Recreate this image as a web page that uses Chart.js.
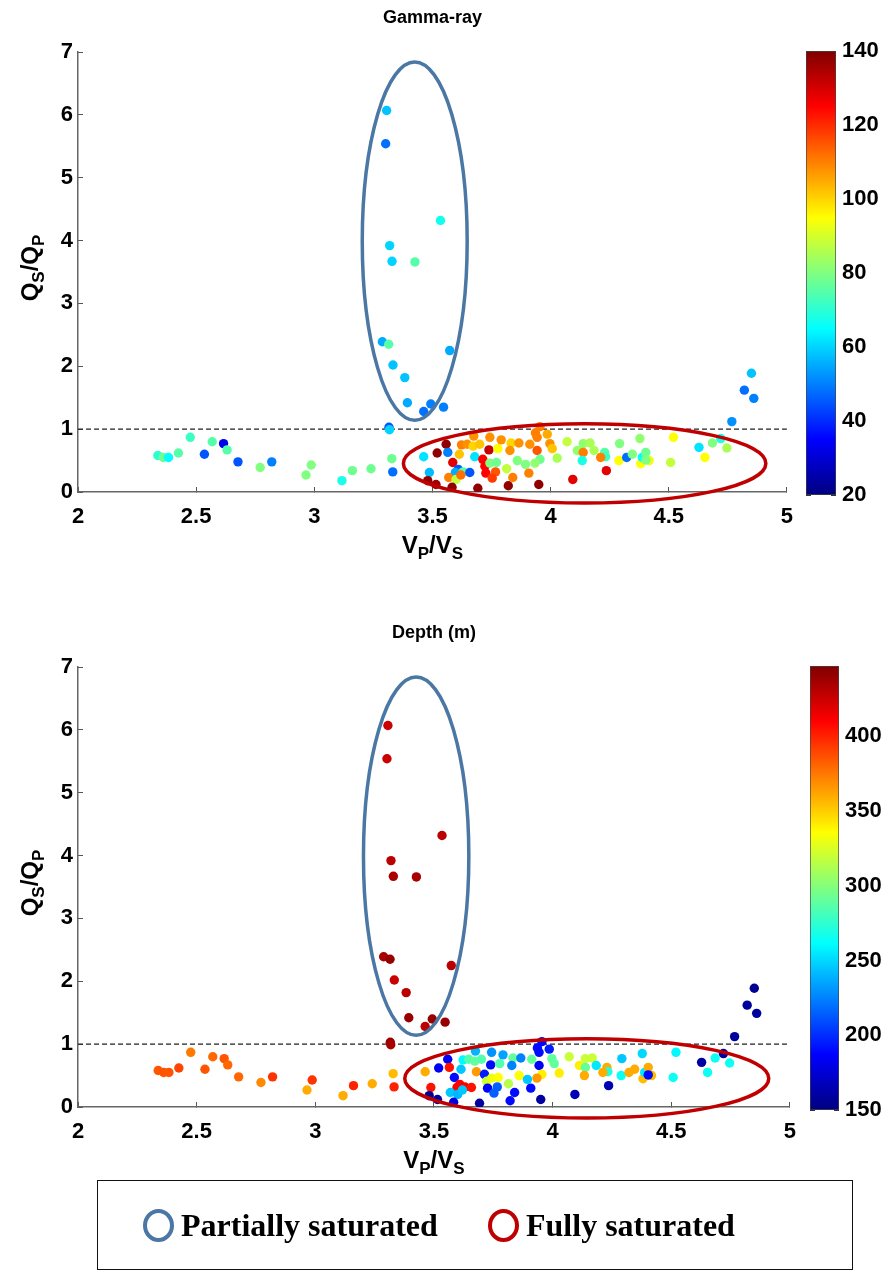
<!DOCTYPE html>
<html>
<head>
<meta charset="utf-8">
<script src="https://cdn.jsdelivr.net/npm/chart.js@4.4.0/dist/chart.umd.min.js"></script>
<style>
  body { margin: 0; background: #fff; }
  #wrap { position: relative; width: 890px; height: 1282px; overflow: hidden; }
  canvas { position: absolute; }
  #legend {
    position: absolute; left: 97px; top: 1180px; width: 756px; height: 90px;
    box-sizing: border-box; border: 1.5px solid #111;
    font: bold 32px "Liberation Serif", "Times New Roman", serif; color: #000;
  }
  .item { position: absolute; top: 0; height: 100%; display: flex; align-items: center; }
  .ring { width: 23px; height: 25px; border-radius: 50%; border: 4px solid; margin-right: 7px; }
</style>
</head>
<body>
<div id="wrap">
  <canvas id="gamma" width="810" height="572" style="left:0;top:0"></canvas>
  <canvas id="gammaBar" width="100" height="572" style="left:790px;top:0"></canvas>
  <canvas id="depth" width="813" height="572" style="left:0;top:615px"></canvas>
  <canvas id="depthBar" width="100" height="572" style="left:790px;top:615px"></canvas>
  <div id="legend">
    <div class="item" style="left:45px"><div class="ring" style="border-color:#4a77a3"></div>Partially saturated</div>
    <div class="item" style="left:390px"><div class="ring" style="border-color:#c00000"></div>Fully saturated</div>
  </div>
</div>
<script>
// Vp/Vs and Qs/Qp of each sample, colour values: gamma-ray and depth (m)
const vpvs = [
  2.338, 2.361, 2.383, 2.425, 2.475, 2.535, 2.568, 2.616, 2.631, 2.677,
  2.771, 2.82, 2.965, 2.987, 3.117, 3.161, 3.24, 3.328, 3.332, 3.316,
  3.318, 3.306, 3.302, 3.534, 3.319, 3.329, 3.426, 3.288, 3.315, 3.573,
  3.333, 3.383, 3.394, 3.493, 3.463, 3.547, 3.463, 3.487, 3.48, 3.515,
  3.52, 3.558, 3.565, 3.623, 3.647, 3.675, 3.672, 3.70, 3.614, 3.679,
  3.586, 3.609, 3.597, 3.63, 3.658, 3.569, 3.60, 3.62, 3.583, 3.692,
  3.739, 3.713, 3.722, 3.743, 3.771, 3.726, 3.767, 3.753, 3.777, 3.791,
  3.743, 3.833, 3.828, 3.866, 3.814, 3.84, 3.821, 3.859, 3.894, 3.912,
  3.908, 3.943, 3.955, 3.934, 3.943, 3.936, 3.986, 3.955, 3.997, 4.007,
  3.95, 4.028, 4.07, 4.094, 4.236, 4.113, 4.138, 4.167, 4.138, 4.134,
  4.184, 4.229, 4.233, 4.212, 4.292, 4.289, 4.322, 4.346, 4.378, 4.381,
  4.388, 4.403, 4.417, 4.403, 4.508, 4.52, 4.628, 4.653, 4.685, 4.72,
  4.746, 4.767, 4.85, 4.82, 4.86
];
const qsqp = [
  0.58, 0.55, 0.55, 0.62, 0.87, 0.60, 0.80, 0.77, 0.67, 0.48,
  0.39, 0.48, 0.27, 0.43, 0.18, 0.34, 0.37, 0.53, 0.32, 1.03,
  0.99, 6.07, 5.54, 4.32, 3.92, 3.67, 3.66, 2.39, 2.35, 2.25,
  2.02, 1.82, 1.42, 1.40, 1.28, 1.35, 0.56, 0.31, 0.18, 0.12,
  0.62, 0.76, 0.63, 0.75, 0.76, 0.89, 0.73, 0.76, 0.60, 0.56,
  0.47, 0.36, 0.31, 0.32, 0.31, 0.23, 0.20, 0.27, 0.075, 0.06,
  0.67, 0.52, 0.41, 0.46, 0.47, 0.30, 0.32, 0.22, 0.69, 0.83,
  0.87, 0.78, 0.66, 0.78, 0.37, 0.23, 0.10, 0.50, 0.44, 0.76,
  0.30, 0.66, 0.52, 0.46, 0.87, 0.94, 0.92, 1.04, 0.77, 0.69,
  0.12, 0.54, 0.80, 0.20, 0.34, 0.66, 0.77, 0.78, 0.63, 0.50,
  0.66, 0.63, 0.56, 0.55, 0.77, 0.50, 0.55, 0.60, 0.85, 0.45,
  0.55, 0.63, 0.50, 0.51, 0.47, 0.87, 0.71, 0.55, 0.78, 0.85,
  0.70, 1.12, 1.89, 1.62, 1.49
];
const gammaRay = [
  70, 78, 65, 75, 72, 45, 75, 33, 75, 45,
  80, 50, 80, 80, 68, 78, 78, 78, 48, 45,
  60, 58, 48, 67, 60, 60, 75, 55, 75, 55,
  58, 58, 55, 50, 48, 50, 62, 57, 138, 136,
  138, 138, 50, 110, 108, 108, 100, 102, 102, 62,
  128, 45, 55, 75, 45, 110, 88, 112, 138, 138,
  132, 125, 125, 80, 78, 125, 115, 118, 95, 108,
  108, 100, 108, 108, 88, 110, 138, 80, 80, 108,
  110, 115, 78, 82, 110, 110, 105, 110, 108, 102,
  138, 85, 88, 128, 128, 82, 82, 85, 110, 68,
  85, 75, 72, 110, 80, 95, 48, 80, 82, 95,
  65, 78, 93, 80, 88, 95, 62, 95, 80, 68,
  85, 52, 58, 48, 50
];
const depthM = [
  385, 385, 385, 390, 375, 385, 380, 385, 380, 380,
  370, 395, 360, 395, 360, 400, 360, 355, 400, 440,
  435, 425, 425, 430, 430, 435, 435, 435, 440, 430,
  425, 430, 440, 440, 430, 440, 360, 405, 155, 160,
  185, 185, 405, 260, 285, 240, 290, 285, 245, 365,
  190, 410, 410, 410, 405, 245, 240, 245, 180, 160,
  190, 195, 320, 330, 335, 185, 215, 215, 285, 235,
  230, 290, 225, 225, 315, 190, 190, 335, 245, 290,
  190, 185, 340, 365, 190, 190, 195, 190, 290, 290,
  160, 340, 320, 165, 165, 340, 320, 320, 290, 360,
  255, 360, 270, 360, 245, 265, 360, 360, 250, 355,
  255, 360, 355, 190, 265, 260, 160, 265, 265, 160,
  265, 158, 155, 158, 158
];

const xRange = [2, 5];
const yRange = [0, 7];
const gammaRange = [20, 140];
const depthRange = [150, 447];
const threshold = 1;
// [centre x, centre y, radius x, radius y] in data units
const partialEllipse = [3.425, 3.99, 0.222, 2.85];
const fullEllipse = [4.144, 0.455, 0.767, 0.63];

const sans = "'Liberation Sans', Arial, sans-serif";
const tickFont = { family: sans, size: 22, weight: 'bold' };

function jet(v, lo, hi) {
  const t = Math.min(1, Math.max(0, (v - lo) / (hi - lo)));
  const c = (k) => Math.round(255 * Math.min(1, Math.max(0, 1.5 - Math.abs(4 * t - k))));
  return `rgb(${c(3)},${c(2)},${c(1)})`;
}

// draws text with subscripts, centred on x
function drawSubText(ctx, parts, x, y) {
  const big = `bold 24px ${sans}`;
  const small = `bold 17px ${sans}`;
  let w = 0;
  parts.forEach(([t, sub]) => { ctx.font = sub ? small : big; w += ctx.measureText(t).width; });
  let cx = x - w / 2;
  ctx.textAlign = 'left';
  ctx.textBaseline = 'alphabetic';
  ctx.fillStyle = '#000';
  parts.forEach(([t, sub]) => {
    ctx.font = sub ? small : big;
    ctx.fillText(t, cx, sub ? y + 6 : y);
    cx += ctx.measureText(t).width;
  });
}

const decorPlugin = {
  id: 'decor',
  afterDatasetsDraw(chart) {
    const { ctx, scales: { x, y } } = chart;
    [[partialEllipse, '#4a77a3'], [fullEllipse, '#c00000']].forEach(([e, col]) => {
      const cx = x.getPixelForValue(e[0]), cy = y.getPixelForValue(e[1]);
      const rx = Math.abs(x.getPixelForValue(e[0] + e[2]) - cx);
      const ry = Math.abs(y.getPixelForValue(e[1] + e[3]) - cy);
      ctx.save();
      ctx.beginPath();
      ctx.ellipse(cx, cy, rx, ry, 0, 0, Math.PI * 2);
      ctx.lineWidth = 3.5;
      ctx.strokeStyle = col;
      ctx.stroke();
      ctx.restore();
    });
  },
  afterDraw(chart, args, opts) {
    const { ctx, chartArea } = chart;
    const midX = (chartArea.left + chartArea.right) / 2;
    ctx.save();
    ctx.font = `bold 18px ${sans}`;
    ctx.fillStyle = '#000';
    ctx.textAlign = 'center';
    ctx.textBaseline = 'middle';
    ctx.fillText(opts.title, midX, 18);
    drawSubText(ctx, [['V'], ['P', 1], ['/'], ['V'], ['S', 1]], midX, 553);
    ctx.translate(38, (chartArea.top + chartArea.bottom) / 2 - 4);
    ctx.rotate(-Math.PI / 2);
    drawSubText(ctx, [['Q'], ['S', 1], ['/'], ['Q'], ['P', 1]], 0, 0);
    ctx.restore();
  }
};

function makeChart(id, title, values, range) {
  return new Chart(document.getElementById(id), {
    type: 'scatter',
    data: {
      datasets: [
        {
          type: 'line',
          data: xRange.map(v => ({ x: v, y: threshold })),
          borderColor: '#222', borderWidth: 1.3, borderDash: [5, 3],
          pointRadius: 0, order: 2
        },
        {
          data: vpvs.map((v, i) => ({ x: v, y: qsqp[i] })),
          backgroundColor: values.map(v => jet(v, range[0], range[1])),
          pointRadius: 4.7, pointHoverRadius: 4.7, borderWidth: 0, order: 1
        }
      ]
    },
    options: {
      responsive: false, animation: false, devicePixelRatio: 1,
      layout: { padding: { left: 0, right: 0, top: 52, bottom: 0 } },
      plugins: {
        legend: { display: false },
        tooltip: { enabled: false },
        decor: { title: title }
      },
      scales: {
        x: {
          type: 'linear', min: xRange[0], max: xRange[1],
          ticks: { stepSize: 0.5, font: tickFont, color: '#000', padding: 17, callback: v => String(v) },
          grid: { drawOnChartArea: false, tickLength: -5, color: '#555' },
          border: { color: '#666', width: 1.5 },
          afterFit(s) { s.height = 80; }
        },
        y: {
          min: yRange[0], max: yRange[1],
          ticks: { stepSize: 1, font: tickFont, color: '#000', padding: 10, callback: v => String(v) },
          grid: { drawOnChartArea: false, tickLength: -5, color: '#555' },
          border: { color: '#666', width: 1.5 },
          afterFit(s) { s.width = 78; }
        }
      }
    },
    plugins: [decorPlugin]
  });
}

function makeColorbar(id, range, step, pad, axisW) {
  return new Chart(document.getElementById(id), {
    type: 'bar',
    data: {
      labels: [''],
      datasets: [{
        data: [range],
        backgroundColor(c) {
          const a = c.chart.chartArea;
          if (!a) return null;
          const g = c.chart.ctx.createLinearGradient(0, a.bottom, 0, a.top);
          for (let i = 0; i <= 32; i++) {
            g.addColorStop(i / 32, jet(range[0] + (i / 32) * (range[1] - range[0]), range[0], range[1]));
          }
          return g;
        },
        borderColor: '#444', borderWidth: 1, borderSkipped: false,
        barPercentage: 1, categoryPercentage: 1
      }]
    },
    options: {
      responsive: false, animation: false, devicePixelRatio: 1,
      layout: { padding: pad },
      plugins: { legend: { display: false }, tooltip: { enabled: false } },
      scales: {
        x: { display: false },
        y: {
          position: 'right', min: range[0], max: range[1], z: 1,
          ticks: { stepSize: step, includeBounds: false, font: tickFont, color: '#000', padding: 11 },
          grid: { drawOnChartArea: false, tickLength: -5, color: '#333' },
          border: { display: false },
          afterFit(s) { s.width = axisW; }
        },
        yl: {
          position: 'left', min: range[0], max: range[1], z: 1,
          ticks: { display: false, stepSize: step, includeBounds: false },
          grid: { drawOnChartArea: false, tickLength: -5, color: '#333' },
          border: { display: false },
          afterFit(s) { s.width = 0; }
        }
      }
    }
  });
}

makeChart('gamma', 'Gamma-ray', gammaRay, gammaRange);
makeChart('depth', 'Depth (m)', depthM, depthRange);
makeColorbar('gammaBar', gammaRange, 20, { left: 16, top: 51, bottom: 77, right: 0 }, 54);
makeColorbar('depthBar', depthRange, 50, { left: 20, top: 51, bottom: 77, right: 0 }, 51);
</script>
</body>
</html>
